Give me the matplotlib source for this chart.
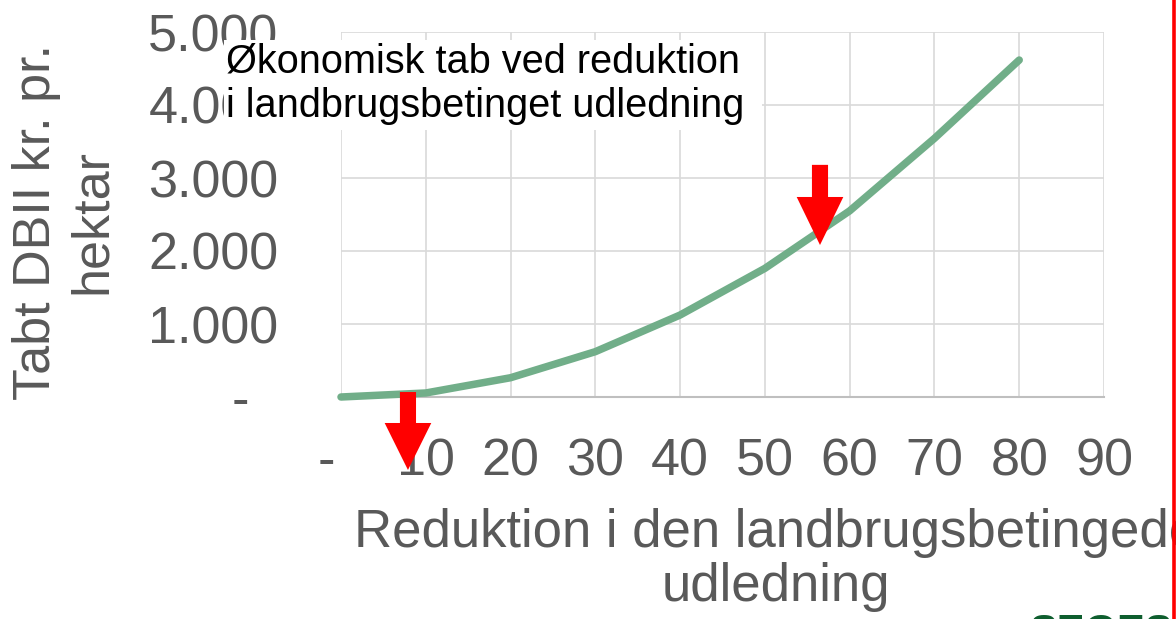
import matplotlib
matplotlib.use("Agg")
import matplotlib.pyplot as plt
from matplotlib.patches import Rectangle, Polygon
from matplotlib.lines import Line2D

# ---- data ----
reduction = [0, 10, 20, 30, 40, 50, 60, 70, 80]
loss = [0, 55, 264, 621, 1123, 1762, 2550, 3543, 4616]
x_ticks = [0, 10, 20, 30, 40, 50, 60, 70, 80, 90]
x_tick_labels = ["-  ", "10", "20", "30", "40", "50", "60", "70", "80", "90"]
y_ticks = [0, 1000, 2000, 3000, 4000, 5000]
y_tick_labels = ["-  ", "1.000", "2.000", "3.000", "4.000", "5.000"]
arrow_x = [7.9, 56.5]           # where the red arrows point
arrow_top = [68, 3180]
arrow_base = [-356, 2740]
arrow_tip = [-1000, 2082]

title_text = "Økonomisk tab ved reduktion\ni landbrugsbetinget udledning"
xlabel_text = "Reduktion i den landbrugsbetingede\nudledning"
ylabel_text = "Tabt DBII kr. pr.\nhektar"

W, H = 1176, 619
plt.rcParams['font.family'] = ['Liberation Sans', 'DejaVu Sans']
fig = plt.figure(figsize=(W / 100, H / 100), dpi=100)
fig.patch.set_facecolor('white')

def fx(px):
    return px / W

def fy(py):
    return 1 - py / H

ax = fig.add_axes([fx(341), fy(397), fx(1104) - fx(341), fy(32) - fy(397)])
ax.set_xlim(0, 90)
ax.set_ylim(0, 5000)

grey = '#595959'
ax.plot(reduction, loss, color='#71AE89', lw=5.4, solid_capstyle='round', zorder=3, clip_on=False)

ax.set_xticks(x_ticks)
ax.set_xticklabels(x_tick_labels)
ax.set_yticks(y_ticks)
ax.set_yticklabels(y_tick_labels)
ax.tick_params(axis='both', length=0, labelsize=37.5, labelcolor=grey)
ax.tick_params(axis='x', pad=29.5)
ax.tick_params(axis='y', pad=45)
ax.grid(True, color='#D9D9D9', lw=1.2)
ax.set_axisbelow(True)
for s in ['top', 'right', 'left']:
    ax.spines[s].set_visible(False)
ax.spines['bottom'].set_color('#BFBFBF')
ax.spines['bottom'].set_linewidth(1.5)

# red arrows (annotation) in data coordinates
half_head = 2.75
half_shaft = 0.95
for xa, yt, yb, yp in zip(arrow_x, arrow_top, arrow_base, arrow_tip):
    pts = [(xa - half_shaft, yt), (xa + half_shaft, yt), (xa + half_shaft, yb),
           (xa + half_head, yb), (xa, yp), (xa - half_head, yb), (xa - half_shaft, yb)]
    ax.add_patch(Polygon(pts, closed=True, facecolor='#FF0000', edgecolor='none',
                         zorder=6, clip_on=False))

# axis labels
fig.text(fx(64), fy(222), ylabel_text, rotation=90, ha='center', va='center',
         multialignment='center', fontsize=37.5, color=grey, linespacing=1.18)
fig.text(fx(776), fy(560), xlabel_text, ha='center', va='center',
         multialignment='center', fontsize=38, color=grey, linespacing=1.12)

# title box
fig.patches.append(Rectangle((fx(224), fy(130)), fx(762) - fx(224), fy(40) - fy(130),
                             transform=fig.transFigure, facecolor='white',
                             edgecolor='none', zorder=5))
fig.text(fx(226), fy(84), title_text, ha='left', va='center', fontsize=28.6,
         color='black', linespacing=1.22, zorder=6)

# logo fragment at bottom right and red frame line
fig.text(fx(1030), fy(613), "SEGES", ha='left', va='top', fontsize=30,
         fontweight='bold', color='#0E5E2E', zorder=6)
fig.lines.append(Line2D([fx(1173.5), fx(1173.5)], [0, 1], transform=fig.transFigure,
                        color='#FF0000', lw=2.6, zorder=10))

fig.savefig('out.png', dpi=100, facecolor='white')
